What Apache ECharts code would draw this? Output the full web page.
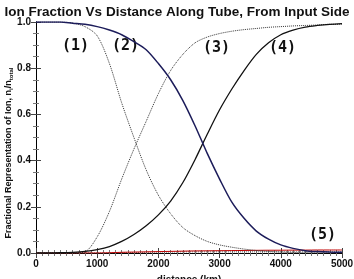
<!DOCTYPE html>
<html>
<head>
<meta charset="utf-8">
<script src="https://cdn.jsdelivr.net/npm/echarts@6/dist/echarts.min.js"></script>
<style>
html,body{margin:0;padding:0;background:#fff;}
#main{width:354px;height:279px;}
</style>
</head>
<body>
<div id="main"></div>
<script>
//距离 (km)
var distanceKm = [0,200,400,600,800,1000,1200,1400,1600,1800,2000,2200,2400,2600,2800,3000,3200,3400,3600,3800,4000,4200,4400,4600,4800,5000];
//(1) dotted, falling
var ion1 = [1.0,1.0,1.0,0.995,0.98,0.94,0.82,0.65,0.50,0.36,0.25,0.17,0.11,0.075,0.05,0.035,0.025,0.017,0.011,0.007,0.004,0.002,0.001,0,0,0];
//(2) solid navy
var ion2 = [1.0,1.0,1.0,0.995,0.99,0.98,0.965,0.945,0.915,0.88,0.82,0.75,0.66,0.55,0.43,0.32,0.22,0.15,0.095,0.06,0.035,0.02,0.01,0.006,0.004,0.003];
//(3) dotted, rising
var ion3 = [0,0,0,0,0.005,0.07,0.18,0.32,0.45,0.57,0.69,0.79,0.86,0.91,0.935,0.95,0.96,0.967,0.972,0.977,0.98,0.983,0.985,0.987,0.99,0.99];
//(4) solid black, rising
var ion4 = [0,0,0.001,0.003,0.007,0.015,0.028,0.05,0.08,0.118,0.165,0.225,0.305,0.405,0.515,0.62,0.71,0.79,0.86,0.91,0.945,0.965,0.978,0.985,0.99,0.993];
//(5) red, near zero
var ion5 = [0,0,0,0,0,0,0.001,0.003,0.004,0.005,0.006,0.007,0.008,0.009,0.0095,0.01,0.0105,0.011,0.0115,0.012,0.012,0.0125,0.0125,0.013,0.013,0.013];
//dotted near zero
var ion5b = [0,0,0,0,0,0,0,0.001,0.002,0.003,0.004,0.004,0.005,0.005,0.005,0.005,0.005,0.005,0.005,0.005,0.005,0.005,0.005,0.005,0.005,0.005];

function pairs(arr){
    var out = [];
    for (var i = 0; i < distanceKm.length; i++) {
        out.push([distanceKm[i], arr[i]]);
    }
    return out;
}

var myChart = echarts.init(document.getElementById('main'), null, {renderer: 'canvas'});
var fontB = 'Liberation Sans';
var axisCommon = {
    min: 0,
    axisLine: {show: true, lineStyle: {color: '#000', width: 1}},
    axisTick: {show: true, inside: true, length: 5, lineStyle: {color: '#444'}},
    splitLine: {show: false}
};
var labelFont = 'bold 15px "DejaVu Sans Mono"';
var option = {
    animation: false,
    backgroundColor: '#fff',
    title: {
        text: 'Ion Fraction Vs Distance Along Tube, From Input Side',
        left: 'center',
        top: 0,
        textStyle: {fontFamily: fontB, fontSize: 13.5, fontWeight: 'bold', color: '#111'}
    },
    grid: {left: 36, right: 12, top: 22, bottom: 26, outerBoundsMode: 'none', containLabel: false},
    xAxis: [
        Object.assign({}, axisCommon, {
            type: 'value', max: 5000, interval: 1000,
            minorTick: {show: true, splitNumber: 10, length: 3, lineStyle: {color: '#777'}},
            axisLabel: {
                fontFamily: fontB, fontSize: 10, fontWeight: 'bold', color: '#111', margin: 6,
                formatter: function (v) { return String(v); }
            },
            name: 'distance (km)', nameLocation: 'middle', nameGap: 22,
            nameTextStyle: {fontFamily: fontB, fontSize: 10, fontWeight: 'bold', color: '#111'}
        }),
        Object.assign({}, axisCommon, {
            type: 'value', max: 5000, interval: 1000, position: 'top',
            minorTick: {show: true, splitNumber: 10, length: 3, lineStyle: {color: '#777'}},
            axisLabel: {show: false}
        })
    ],
    yAxis: [
        Object.assign({}, axisCommon, {
            type: 'value', max: 1.0, interval: 0.2,
            minorTick: {show: true, splitNumber: 4, length: 3, lineStyle: {color: '#777'}},
            axisLabel: {
                fontFamily: fontB, fontSize: 10, fontWeight: 'bold', color: '#111', margin: 5,
                formatter: function (v) { return v.toFixed(1); }
            }
        }),
        Object.assign({}, axisCommon, {
            type: 'value', max: 1.0, interval: 0.2, position: 'right',
            minorTick: {show: true, splitNumber: 4, length: 3, lineStyle: {color: '#777'}},
            axisLabel: {show: false}
        })
    ],
    graphic: [
        //纵轴标题
        {
            type: 'text', x: 9, y: 153, rotation: Math.PI / 2,
            style: {
                text: '{n|Fractional Representation of Ion, n}{s|i}{n|/n}{s|total}',
                align: 'center', verticalAlign: 'middle',
                rich: {
                    n: {fontFamily: fontB, fontSize: 9, fontWeight: 'bold', fill: '#111'},
                    s: {fontFamily: fontB, fontSize: 6, fontWeight: 'bold', fill: '#111', padding: [5, 0, 0, 0]}
                }
            }
        },
        //曲线编号
        {type: 'text', left: 62, top: 39, style: {text: '(1)', font: labelFont, fill: '#111'}},
        {type: 'text', left: 112, top: 39, style: {text: '(2)', font: labelFont, fill: '#111'}},
        {type: 'text', left: 203, top: 41, style: {text: '(3)', font: labelFont, fill: '#111'}},
        {type: 'text', left: 269, top: 41, style: {text: '(4)', font: labelFont, fill: '#111'}},
        {type: 'text', left: 309, top: 228, style: {text: '(5)', font: labelFont, fill: '#111'}}
    ],
    series: [
        {
            name: 'ion5b', type: 'line', data: pairs(ion5b), smooth: 0.3, symbol: 'none',
            lineStyle: {color: '#555', width: 1, type: 'dotted'}
        },
        {
            name: 'ion5', type: 'line', data: pairs(ion5), smooth: 0.3, symbol: 'none',
            lineStyle: {color: '#c00000', width: 1}
        },
        {
            name: 'ion1', type: 'line', data: pairs(ion1), smooth: 0.3, symbol: 'none',
            lineStyle: {color: '#333', width: 1, type: 'dotted'}
        },
        {
            name: 'ion3', type: 'line', data: pairs(ion3), smooth: 0.3, symbol: 'none',
            lineStyle: {color: '#333', width: 1, type: 'dotted'}
        },
        {
            name: 'ion4', type: 'line', data: pairs(ion4), smooth: 0.3, symbol: 'none',
            lineStyle: {color: '#111', width: 1.3}
        },
        {
            name: 'ion2', type: 'line', data: pairs(ion2), smooth: 0.3, symbol: 'none',
            lineStyle: {color: '#1c1c5a', width: 1.5}
        }
    ]
};
myChart.setOption(option);
</script>
</body>
</html>
